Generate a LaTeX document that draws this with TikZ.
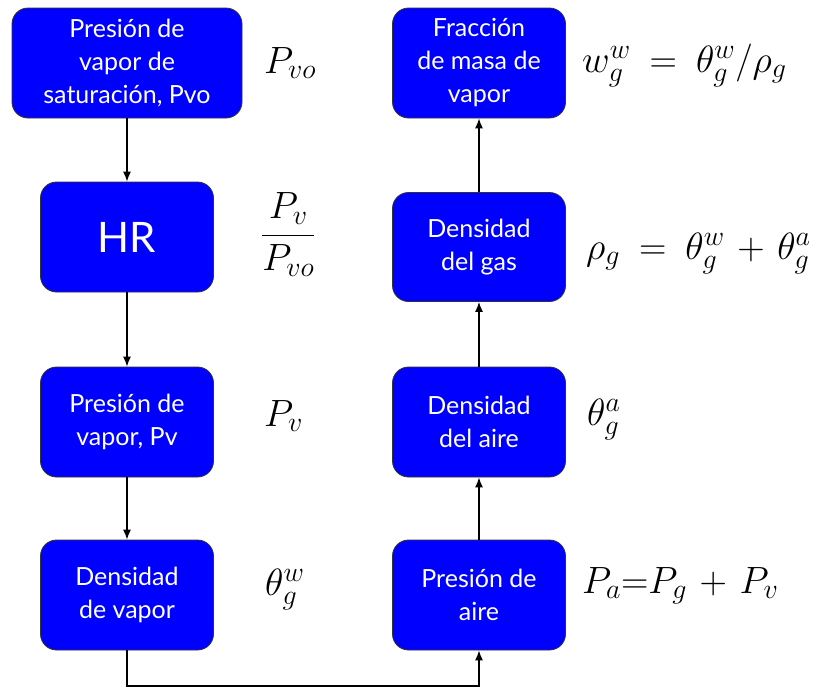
\RequirePackage{fix-cm}
\documentclass[tikz,border=0pt]{standalone}
\usepackage{fontspec}
\newfontfamily\boxfont{Lato}
\usetikzlibrary{arrows.meta}
\DeclareMathSizes{38}{38}{28}{21}
\thickmuskip=9mu plus 3mu
\medmuskip=6mu plus 2mu
\tikzset{
  box/.style={draw=black!80, line width=0.8pt, fill=blue, rounded corners=16pt,
    text=white, align=center, font=\boxfont\fontsize{25}{33}\selectfont,
    minimum width=173pt, minimum height=110pt, inner sep=2pt},
  conn/.style={line width=1.3pt, -{Latex[length=10pt,width=8pt]}},
  lbl/.style={font=\fontsize{38}{44}\selectfont, anchor=base west, inner sep=0pt}
}
\begin{document}
\begin{tikzpicture}[x=1pt,y=-1pt]
\useasboundingbox (0,0) rectangle (833,689);
% left column
\node[box, minimum width=230pt] (sat) at (127,63) {Presión de\\vapor de\\saturación, Pvo};
\node[box, font=\boxfont\fontsize{42}{48}\selectfont] (hr) at (127,237) {HR};
\node[box] (pv) at (127,422) {Presión de\\vapor, Pv};
\node[box] (dv) at (127,595) {Densidad\\de vapor};
% right column
\node[box] (fr) at (479,63) {Fracción\\de masa de\\vapor};
\node[box, minimum height=109pt] (dg) at (479,247) {Densidad\\del gas};
\node[box] (da) at (479,422) {Densidad\\del aire};
\node[box] (pa) at (479,595) {Presión de\\aire};
% connectors
\draw[conn] (sat) -- (hr);
\draw[conn] (hr) -- (pv);
\draw[conn] (pv) -- (dv);
\coordinate (c1) at (127,686);
\coordinate (c2) at (479,686);
\draw[conn] (dv.south) -- (c1) -- (c2) -- (pa.south);
\draw[conn] (pa) -- (da);
\draw[conn] (da) -- (dg);
\draw[conn] (dg) -- (fr);
% labels
\node[lbl] (l1) at (264,73) {$P_{vo}$};
\node[lbl] (l2) at (261,244.5) {$\displaystyle\frac{P_v}{P_{vo}}$};
\node[lbl] (l3) at (264,426) {$P_v$};
\node[lbl] (l4) at (265,595) {$\theta_g^w$};
\node[lbl] (l5) at (582,72) {$w_g^w = \theta_g^w/\rho_g$};
\node[lbl] (l6) at (586,259) {$\rho_g = \theta_g^w + \theta_g^a$};
\node[lbl] (l7) at (587,425) {$\theta_g^a$};
\node[lbl] (l8) at (582,593) {$P_a$=$P_g + P_v$};
\end{tikzpicture}
\end{document}
